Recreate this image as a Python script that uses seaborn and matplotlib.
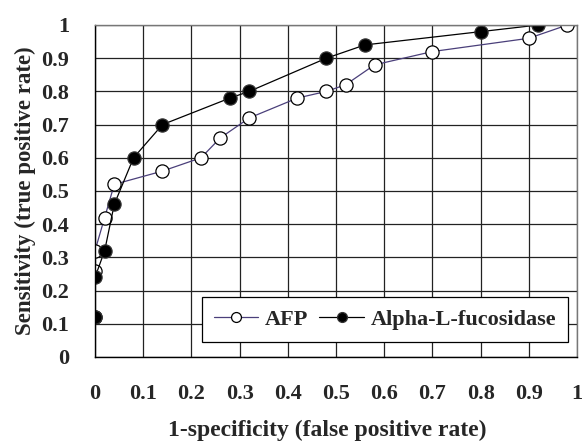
import pandas as pd
import matplotlib.pyplot as plt
import seaborn as sns

# ROC points
afp_fpr = [0.0, 0.0, 0.0, 0.02, 0.04, 0.14, 0.22, 0.26, 0.32, 0.42, 0.48, 0.52, 0.58, 0.70, 0.90, 0.98]
afp_tpr = [0.12, 0.26, 0.32, 0.42, 0.52, 0.56, 0.60, 0.66, 0.72, 0.78, 0.80, 0.82, 0.88, 0.92, 0.96, 1.00]

fuc_fpr = [0.0, 0.0, 0.02, 0.04, 0.08, 0.14, 0.28, 0.32, 0.48, 0.56, 0.80, 0.92]
fuc_tpr = [0.12, 0.24, 0.32, 0.46, 0.60, 0.70, 0.78, 0.80, 0.90, 0.94, 0.98, 1.00]

ticks = [0, 0.1, 0.2, 0.3, 0.4, 0.5, 0.6, 0.7, 0.8, 0.9, 1]
tick_labels = ['0', '0.1', '0.2', '0.3', '0.4', '0.5', '0.6', '0.7', '0.8', '0.9', '1']

afp = pd.DataFrame({'fpr': afp_fpr, 'tpr': afp_tpr})
fuc = pd.DataFrame({'fpr': fuc_fpr, 'tpr': fuc_tpr})

sns.set_style('white')
plt.rcParams['font.family'] = ['Liberation Serif', 'DejaVu Serif']
plt.rcParams['font.weight'] = 'bold'

fig = plt.figure(figsize=(5.82, 4.41), dpi=100)
ax = fig.add_axes([95 / 582, 1 - 357 / 441, (577 - 95) / 582, (357 - 25) / 441])

# estimator=None so repeated x values (fpr = 0) are not averaged
sns.lineplot(data=afp, x='fpr', y='tpr', sort=False, estimator=None, ax=ax,
             color='#4a3f7a', lw=0.9, marker='o', markersize=9.5,
             markerfacecolor='white', markeredgecolor='black', markeredgewidth=0.9,
             label='AFP')
sns.lineplot(data=fuc, x='fpr', y='tpr', sort=False, estimator=None, ax=ax,
             color='black', lw=0.9, marker='o', markersize=9.5,
             markerfacecolor='black', markeredgecolor='#333333', markeredgewidth=0.9,
             label='Alpha-L-fucosidase')

ax.set_xlim(0, 1)
ax.set_ylim(0, 1)
ax.set_xticks(ticks)
ax.set_xticklabels(tick_labels)
ax.set_yticks(ticks)
ax.set_yticklabels(tick_labels)
ax.grid(True, color='#222222', lw=0.9)
ax.set_axisbelow(True)
ax.tick_params(axis='both', labelsize=16, length=5.5, width=0.9, direction='out', color='black')
ax.tick_params(axis='x', pad=14)
ax.tick_params(axis='y', pad=13)
for lab in ax.get_xticklabels() + ax.get_yticklabels():
    lab.set_fontweight('bold')

for s in ['top', 'right']:
    ax.spines[s].set_color('#777777')
    ax.spines[s].set_linewidth(1.0)
for s in ['left', 'bottom']:
    ax.spines[s].set_color('black')
    ax.spines[s].set_linewidth(1.0)

ax.set_xlabel('1-specificity (false positive rate)', fontsize=17, fontweight='bold')
ax.set_ylabel('Sensitivity (true positive rate)', fontsize=16.5, fontweight='bold')
ax.xaxis.set_label_coords(0.482, -0.188)
ax.yaxis.set_label_coords(-0.122, 0.5)

leg = ax.legend(loc='lower right', ncol=2, fontsize=16, frameon=True, fancybox=False,
                edgecolor='black', framealpha=1, handlelength=2.0, handletextpad=0.3,
                columnspacing=0.5, borderpad=0.55, borderaxespad=0, markerscale=0.75,
                bbox_to_anchor=(0.982, 0.045))
leg.get_frame().set_linewidth(0.9)
for t in leg.get_texts():
    t.set_fontweight('bold')

fig.savefig('out.png', dpi=100)
